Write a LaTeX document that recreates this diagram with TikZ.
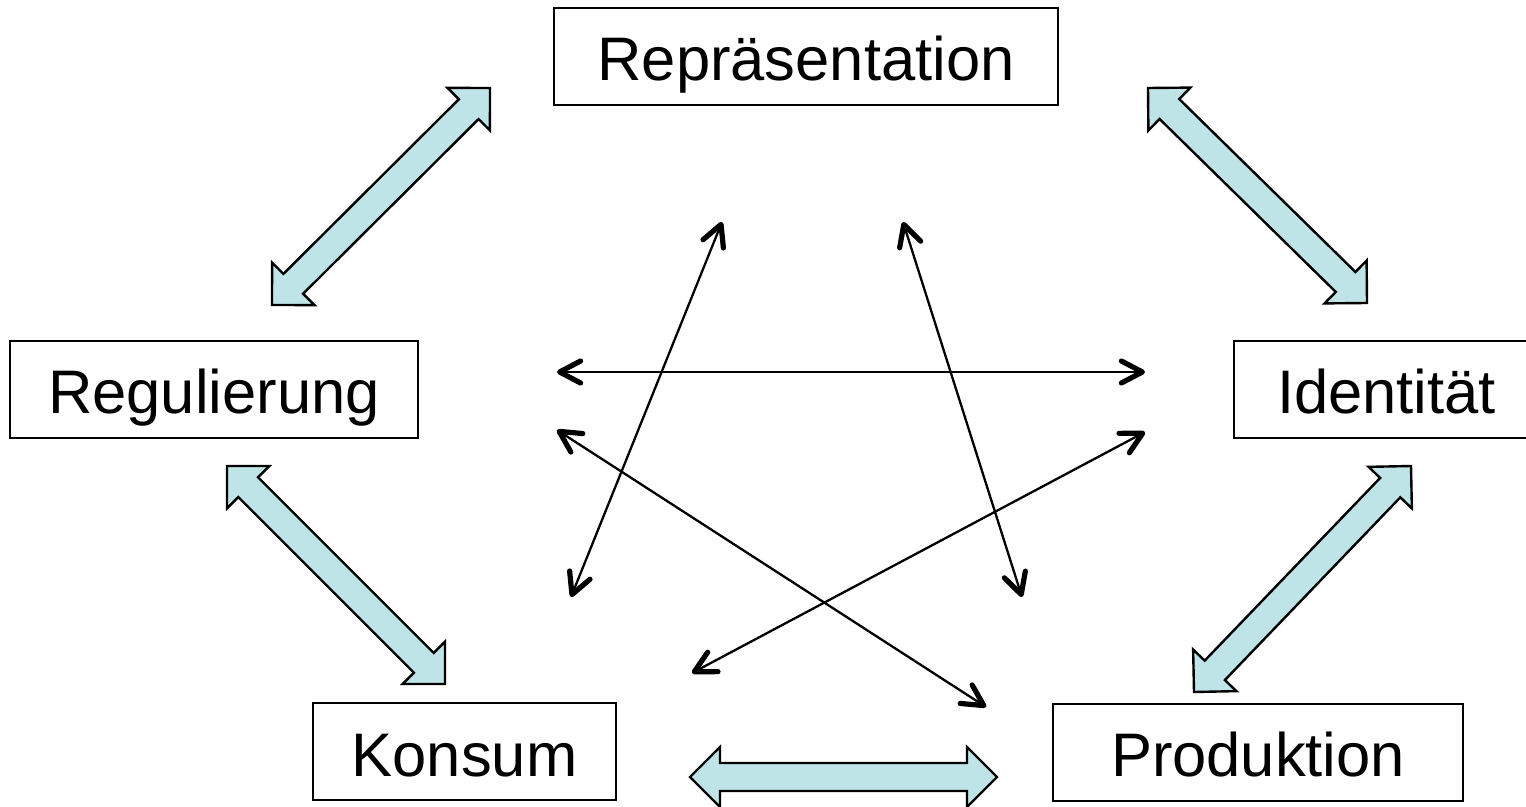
\documentclass[tikz,border=0pt]{standalone}
\usepackage{fontspec}
\setmainfont{Liberation Sans}
\usetikzlibrary{arrows.meta,calc}
\definecolor{arrowfill}{RGB}{191,228,231}
\tikzset{
  box/.style={draw=black, line width=1pt, inner sep=0pt, minimum height=48.5pt,
    text height=24.5pt, text depth=0pt, font=\fontsize{30.75}{36}\selectfont},
  blockarrow/.style={fill=arrowfill, draw=black, line width=1.2pt, line join=miter},
  barb/.tip={Straight Barb[length=10.5pt, width=11pt, line width=2.6pt, round]},
  link/.style={line width=1.15pt, barb-barb}
}
% double block arrow between two named tips
\newcommand{\dblblock}[2]{%
  \coordinate (ah) at ($(#1)!15pt!(#2)$);
  \coordinate (bh) at ($(#2)!15pt!(#1)$);
  \filldraw[blockarrow] (#1)
    -- ($(ah)!15pt!90:(#2)$) -- ($(ah)!7pt!90:(#2)$)
    -- ($(bh)!7pt!-90:(#1)$) -- ($(bh)!15pt!-90:(#1)$)
    -- (#2)
    -- ($(bh)!15pt!90:(#1)$) -- ($(bh)!7pt!90:(#1)$)
    -- ($(ah)!7pt!-90:(#2)$) -- ($(ah)!15pt!-90:(#2)$)
    -- cycle;}
\begin{document}
\begin{tikzpicture}[x=0.5pt, y=-0.5pt]
\useasboundingbox (0,0) rectangle (1526,807);

% concept boxes
\node[box, minimum width=252pt]   (rep)   at (806,56.5)    {Repräsentation};
\node[box, minimum width=204pt]   (reg)   at (214,389.5)   {Regulierung};
\node[box, minimum width=152.5pt] (ident) at (1386.5,389.5){Identität};
\node[box, minimum width=151.5pt] (kons)  at (464.5,751.5) {Konsum};
\node[box, minimum width=205pt]   (prod)  at (1258,752)    {Produktion};

% ends of the block arrows between neighbouring boxes
\coordinate (rr1) at (272,305);  \coordinate (rr2) at (490,88);
\coordinate (ri1) at (1148,88);  \coordinate (ri2) at (1367,303);
\coordinate (rk1) at (227,466);  \coordinate (rk2) at (445,684);
\coordinate (ip1) at (1411,466); \coordinate (ip2) at (1194,692);
\coordinate (kp1) at (690,777);  \coordinate (kp2) at (997,777);

\dblblock{rr1}{rr2}
\dblblock{ri1}{ri2}
\dblblock{rk1}{rk2}
\dblblock{ip1}{ip2}
\dblblock{kp1}{kp2}

% ends of the thin cross links
\coordinate (hl) at (557,372);   \coordinate (hr) at (1145,372);
\coordinate (d1a) at (557,430);  \coordinate (d1b) at (986,707);
\coordinate (d2a) at (1145,432); \coordinate (d2b) at (692,673);
\coordinate (v1a) at (722,222);  \coordinate (v1b) at (571,597);
\coordinate (v2a) at (903,222);  \coordinate (v2b) at (1022,597);

\draw[link] (hl) -- (hr);
\draw[link] (d1a) -- (d1b);
\draw[link] (d2a) -- (d2b);
\draw[link] (v1a) -- (v1b);
\draw[link] (v2a) -- (v2b);
\end{tikzpicture}
\end{document}
